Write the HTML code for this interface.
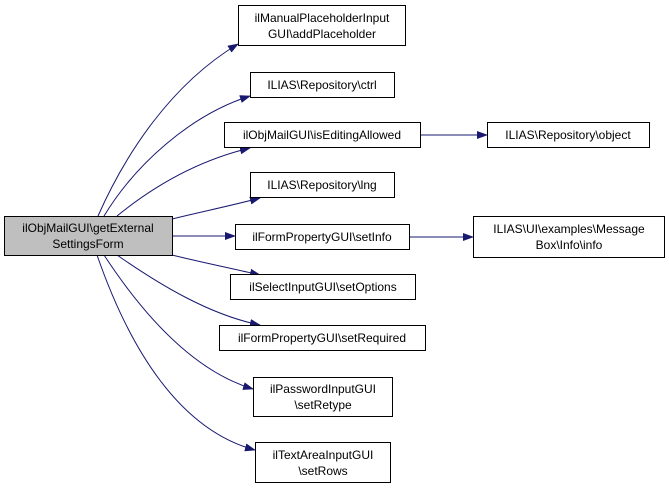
<!DOCTYPE html>
<html><head><meta charset="utf-8"><style>
body{margin:0;background:#fff;}
svg{display:block;}
text{font-family:"Liberation Sans",Helvetica,Arial,sans-serif;font-size:12px;fill:#000;}
</style></head><body>
<svg width="669" height="488" viewBox="0 0 669 488" xmlns="http://www.w3.org/2000/svg">
<defs>
<marker id="a" markerWidth="11" markerHeight="8" refX="10" refY="4" orient="auto" markerUnits="userSpaceOnUse">
<polygon points="0,0 11,4 0,8" fill="#191970"/>
</marker>
</defs>
<g fill="none" stroke="#191970" stroke-width="1" marker-end="url(#a)">
<path d="M98,216 C125,155 170,85 238,44"/>
<path d="M104,216 C135,165 190,115 250,96"/>
<path d="M117,216 C155,185 200,160 250,148"/>
<path d="M172,219 C200,212 230,206 260,198"/>
<path d="M172,236 L235,236"/>
<path d="M172,255 C200,262 230,268 260,275"/>
<path d="M117,255 C160,285 210,315 260,325"/>
<path d="M104,255 C140,310 190,370 253,389"/>
<path d="M97,255 C130,350 180,430 255,450"/>
<path d="M420,135 L487,135"/>
<path d="M409,237 L473,237"/>
</g>
<g stroke="#000" stroke-width="1">
<rect x="4.5" y="216.5" width="168" height="39" fill="#bfbfbf"/>
<rect x="238.5" y="5.5" width="167" height="40" fill="#fff"/>
<rect x="250.5" y="72.5" width="144" height="25" fill="#fff"/>
<rect x="224.5" y="122.5" width="196" height="25" fill="#fff"/>
<rect x="250.5" y="172.5" width="144" height="25" fill="#fff"/>
<rect x="235.5" y="224.5" width="174" height="25" fill="#fff"/>
<rect x="230.5" y="274.5" width="185" height="25" fill="#fff"/>
<rect x="219.5" y="325.5" width="206" height="25" fill="#fff"/>
<rect x="253.5" y="377.5" width="139" height="39" fill="#fff"/>
<rect x="255.5" y="442.5" width="135" height="40" fill="#fff"/>
<rect x="487.5" y="122.5" width="162" height="25" fill="#fff"/>
<rect x="473.5" y="216.5" width="191" height="41" fill="#fff"/>
</g>
<g text-anchor="middle">
<text x="88" y="232">ilObjMailGUI\getExternal</text>
<text x="88" y="248">SettingsForm</text>
<text x="322" y="22">ilManualPlaceholderInput</text>
<text x="322" y="38">GUI\addPlaceholder</text>
<text x="322" y="89">ILIAS\Repository\ctrl</text>
<text x="322" y="139">ilObjMailGUI\isEditingAllowed</text>
<text x="322" y="189">ILIAS\Repository\lng</text>
<text x="322" y="241">ilFormPropertyGUI\setInfo</text>
<text x="323" y="291">ilSelectInputGUI\setOptions</text>
<text x="322" y="342">ilFormPropertyGUI\setRequired</text>
<text x="323" y="393">ilPasswordInputGUI</text>
<text x="323" y="409">\setRetype</text>
<text x="323" y="459">ilTextAreaInputGUI</text>
<text x="323" y="475">\setRows</text>
<text x="568" y="139">ILIAS\Repository\object</text>
<text x="569" y="233">ILIAS\UI\examples\Message</text>
<text x="569" y="249">Box\Info\info</text>
</g>
</svg>
</body></html>
